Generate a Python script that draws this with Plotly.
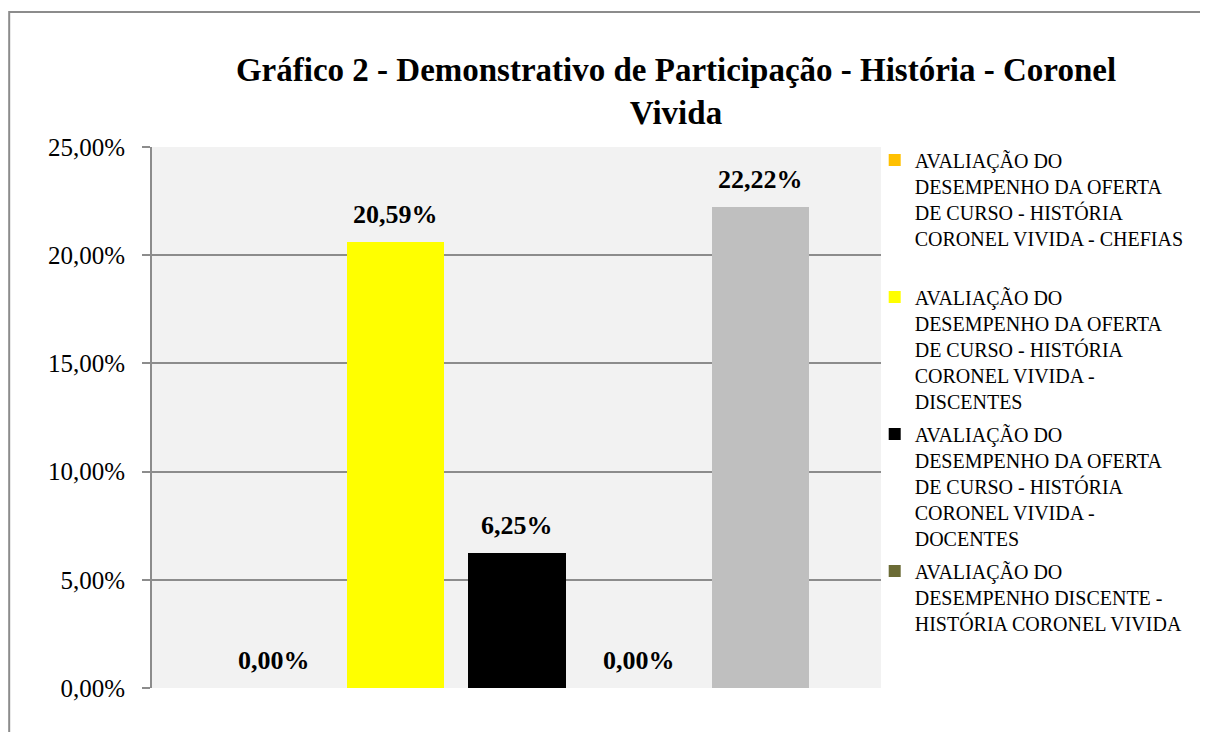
import plotly.graph_objects as go

series_names = [
    "AVALIAÇÃO DO<br>DESEMPENHO DA OFERTA<br>DE CURSO - HISTÓRIA<br>CORONEL VIVIDA - CHEFIAS<br> ",
    "AVALIAÇÃO DO<br>DESEMPENHO DA OFERTA<br>DE CURSO - HISTÓRIA<br>CORONEL VIVIDA -<br>DISCENTES",
    "AVALIAÇÃO DO<br>DESEMPENHO DA OFERTA<br>DE CURSO - HISTÓRIA<br>CORONEL VIVIDA -<br>DOCENTES",
    "AVALIAÇÃO DO<br>DESEMPENHO DISCENTE -<br>HISTÓRIA CORONEL VIVIDA",
    "",
]
values = [0.00, 20.59, 6.25, 0.00, 22.22]
colors = ["#FFC000", "#FFFF00", "#000000", "#6B6B35", "#BFBFBF"]
show_in_legend = [True, True, True, True, False]
positions = [0, 1, 2, 3, 4]
y_ticks = [0, 5, 10, 15, 20, 25]
y_tick_labels = [f"{t:.2f}%".replace(".", ",") for t in y_ticks]

SERIF = "Liberation Serif"

fig = go.Figure()
for i, (name, v, c, p, sl) in enumerate(zip(series_names, values, colors, positions, show_in_legend)):
    fig.add_trace(go.Bar(
        x=[p], y=[v], name=name, marker=dict(color=c, line=dict(width=0)),
        width=0.8, showlegend=sl, legendgroup=f"g{i}",
    ))
    fig.add_annotation(
        x=p, y=v, text=f"<b>{v:.2f}%</b>".replace(".", ","),
        showarrow=False, yanchor="bottom", yshift=11,
        font=dict(family=SERIF, size=26, color="#000000"),
    )

fig.add_shape(type="rect", xref="paper", yref="paper",
              x0=-0.1959, x1=1.47, y0=-0.12, y1=1.2495,
              line=dict(color="#8C8C8C", width=2), fillcolor="rgba(0,0,0,0)", layer="below")

fig.update_layout(
    width=1192, height=724,
    margin=dict(l=144, r=318, t=139, b=44),
    paper_bgcolor="#FFFFFF", plot_bgcolor="#F2F2F2",
    title=dict(
        text="<b>Gráfico 2 - Demonstrativo de Participação - História - Coronel<br>Vivida</b>",
        x=0.5604, xanchor="center", y=0.899, yanchor="top",
        font=dict(family=SERIF, size=33, color="#000000"),
    ),
    xaxis=dict(range=[-1, 4.99], showticklabels=False, showgrid=False, zeroline=False,
               showline=False, ticks=""),
    yaxis=dict(range=[0, 25], tickvals=y_ticks, ticktext=y_tick_labels,
               showgrid=True, gridcolor="#8C8C8C", gridwidth=2, zeroline=False,
               showline=True, linecolor="#8C8C8C", linewidth=2,
               ticks="outside", ticklen=8, tickcolor="#8C8C8C", tickwidth=2,
               ticklabelstandoff=12,
               tickfont=dict(family=SERIF, size=25, color="#000000")),
    legend=dict(x=0.99, y=1.012, xanchor="left", yanchor="top", valign="top",
                font=dict(family=SERIF, size=20, color="#000000"),
                bgcolor="rgba(0,0,0,0)", tracegroupgap=4, itemwidth=30,
                traceorder="grouped", maxheight=650),
    showlegend=True,
    bargap=0,
)

fig.write_html("out.html")
